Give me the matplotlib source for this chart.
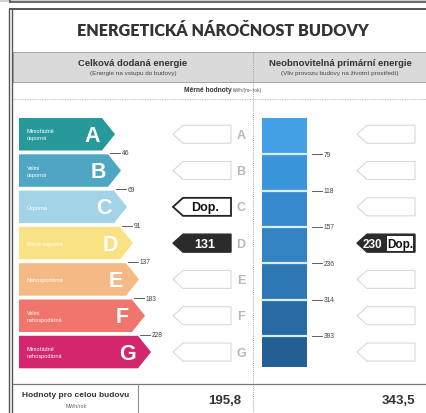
import matplotlib
matplotlib.use("Agg")
import matplotlib.pyplot as plt
from matplotlib.patches import Polygon, Rectangle

# ---------------- data ----------------
classes = ['A', 'B', 'C', 'D', 'E', 'F', 'G']
class_labels = ['Mimořádně\núsporná', 'Velmi\núsporná', 'Úsporná', 'Méně úsporná',
                'Nehospodárná', 'Velmi\nnehospodárná', 'Mimořádně\nnehospodárná']
delivered_thresholds = [46, 69, 91, 137, 183, 228]
primary_thresholds = [79, 118, 157, 236, 314, 393]
delivered_value = 131
delivered_value_class = 'D'
delivered_ref_class = 'C'
primary_value = 230
primary_value_class = 'D'
primary_ref_class = 'D'
total_delivered = 195.8
total_primary = 343.5

title = 'ENERGETICKÁ NÁROČNOST BUDOVY'
col1_title = 'Celková dodaná energie'
col1_sub = '(Energie na vstupu do budovy)'
col2_title = 'Neobnovitelná primární energie'
col2_sub = '(Vliv provozu budovy na životní prostředí)'
unit_label = 'Měrné hodnoty'
unit = 'kWh/(m²·rok)'
total_label = 'Hodnoty pro celou budovu'
total_unit = 'MWh/rok'
ref_text = 'Dop.'

# ---------------- style ----------------
class_colors = ['#28999b', '#4ea6c4', '#a3d3e6', '#f8e284', '#f5b985', '#f0756d', '#d3266d']
blue_colors = ['#43a0e5', '#3b95da', '#368bcf', '#3282c4', '#2d77b5', '#286ba4', '#235f93']
FONT = 'Liberation Sans'

W, H = 427, 414
fig = plt.figure(figsize=(W / 100, H / 100), dpi=100)
ax = fig.add_axes([0, 0, 1, 1])
ax.set_xlim(0, W)
ax.set_ylim(H, 0)
ax.axis('off')

# frame
ax.add_patch(Rectangle((0, 0), W, 3, color='#d0d0d0', lw=0))
ax.plot([10, W], [3, 3], color='#555555', lw=1.2)
ax.plot([10, 10], [0, 3], color='#555555', lw=1.2)
ax.plot([10, W], [10, 10], color='#555555', lw=1.4)
ax.plot([9, 9], [10, H], color='#555555', lw=1.0)
ax.plot([12.5, 12.5], [10, H], color='#555555', lw=1.0)

ax.text(223, 31, title, ha='center', va='center', fontsize=11.6, fontweight='heavy',
        family='Lato', color='#333333')

# header band
ax.add_patch(Rectangle((13, 53), W - 13, 30, facecolor='#dadada', edgecolor='#9a9a9a', lw=0.6))
ax.text(133, 63, col1_title, ha='center', va='center', fontsize=6.8, fontweight='bold',
        family=FONT, color='#333333')
ax.text(133, 73.5, col1_sub, ha='center', va='center', fontsize=4.6, family=FONT, color='#444444')
ax.text(340, 63, col2_title, ha='center', va='center', fontsize=6.8, fontweight='bold',
        family=FONT, color='#333333')
ax.text(340, 73.5, col2_sub, ha='center', va='center', fontsize=4.6, family=FONT, color='#444444')
ax.text(208, 90, unit_label, ha='center', va='center', fontsize=4.8, fontweight='bold',
        family=FONT, color='#333333')
ax.text(233, 90.5, unit, ha='left', va='center', fontsize=3.6, family=FONT, color='#555555')
ax.plot([13, W], [100, 100], color='#aaaaaa', lw=0.6, ls=(0, (1, 1)))
ax.plot([253, 253], [53, H], color='#888888', lw=0.6, ls=(0, (1, 1.5)))

# rows
TOP0, PITCH, HGT = 119, 36.3, 32.5


def row_top(i):
    return TOP0 + PITCH * i


def arrow_box(x_tip, x_right, yc, h, face, edge, lw):
    pts = [(x_tip, yc), (x_tip + 10, yc - h / 2), (x_right, yc - h / 2),
           (x_right, yc + h / 2), (x_tip + 10, yc + h / 2)]
    ax.add_patch(Polygon(pts, closed=True, facecolor=face, edgecolor=edge, lw=lw, joinstyle='miter'))


n = len(classes)
for i, c in enumerate(classes):
    t = row_top(i)
    yc = t + HGT / 2
    tip = 115 + 6 * i
    body = tip - 13
    pts = [(19, t), (body, t), (tip, yc), (body, t + HGT), (19, t + HGT)]
    ax.add_patch(Polygon(pts, closed=True, facecolor=class_colors[i], edgecolor='none'))
    ax.text(tip - 23, yc + 1, c, ha='center', va='center', fontsize=15.5, fontweight='bold',
            family=FONT, color='white')
    ax.text(27, yc, class_labels[i], ha='left', va='center', fontsize=4.0,
            family=FONT, color='white', linespacing=1.5)
    # threshold markers (delivered)
    if i < len(delivered_thresholds):
        ty = t + HGT + 2.5
        ax.plot([tip - 5, tip + 5], [ty, ty], color='#444444', lw=0.6)
        ax.text(tip + 7, ty, str(delivered_thresholds[i]), ha='left', va='center',
                fontsize=4.8, family=FONT, color='#444444')

    # middle boxes (delivered)
    if c == delivered_value_class:
        arrow_box(173, 231, yc, 18, '#2b2b2b', '#2b2b2b', 1.0)
        ax.text(205, yc + 0.5, str(delivered_value), ha='center', va='center', fontsize=9,
                fontweight='bold', family=FONT, color='white')
    elif c == delivered_ref_class:
        arrow_box(173, 231, yc, 18, 'white', '#222222', 1.3)
        ax.text(205, yc + 0.5, ref_text, ha='center', va='center', fontsize=9,
                fontweight='bold', family=FONT, color='#111111')
    else:
        arrow_box(173, 231, yc, 18, 'white', '#d8d8d8', 0.8)
    ax.text(241, yc + 0.5, c, ha='center', va='center', fontsize=9, fontweight='bold',
            family=FONT, color='#b8b8b8')

    # blue bar (primary)
    seg_h = PITCH if i < n - 1 else HGT - 1
    ax.add_patch(Rectangle((262, t), 45, seg_h, facecolor=blue_colors[i], edgecolor='none'))
    if i < len(primary_thresholds):
        ty = t + PITCH
        ax.plot([262, 307], [ty, ty], color='#d6eef8', lw=1.6)
        ax.plot([312, 322], [ty, ty], color='#444444', lw=0.6)
        ax.text(324, ty, str(primary_thresholds[i]), ha='left', va='center',
                fontsize=4.8, family=FONT, color='#444444')

    # right boxes (primary)
    if c == primary_value_class:
        arrow_box(357, 415, yc, 18, '#2b2b2b', '#2b2b2b', 1.0)
        ax.add_patch(Rectangle((387, yc - 7.5), 26.5, 15, facecolor='white', edgecolor='none'))
        ax.text(372, yc + 0.5, str(primary_value), ha='center', va='center', fontsize=8.5,
                fontweight='bold', family=FONT, color='white')
        if c == primary_ref_class:
            ax.text(400, yc + 0.5, ref_text, ha='center', va='center', fontsize=8.5,
                    fontweight='bold', family=FONT, color='#111111')
    else:
        arrow_box(357, 415, yc, 18, 'white', '#d8d8d8', 0.8)

# bottom row
ax.plot([13, W], [385, 385], color='#777777', lw=0.9)
ax.plot([138, 138], [385, H], color='#888888', lw=0.7)
ax.text(76, 396, total_label, ha='center', va='center', fontsize=6.0, fontweight='bold',
        family=FONT, color='#333333')
ax.text(76, 407, total_unit, ha='center', va='center', fontsize=3.8, family=FONT, color='#666666')
ax.text(241, 401, f'{total_delivered:.1f}'.replace('.', ','), ha='right', va='center',
        fontsize=9.5, fontweight='bold', family=FONT, color='#333333')
ax.text(415, 401, f'{total_primary:.1f}'.replace('.', ','), ha='right', va='center',
        fontsize=9.5, fontweight='bold', family=FONT, color='#333333')

fig.savefig('out.png', dpi=100)
